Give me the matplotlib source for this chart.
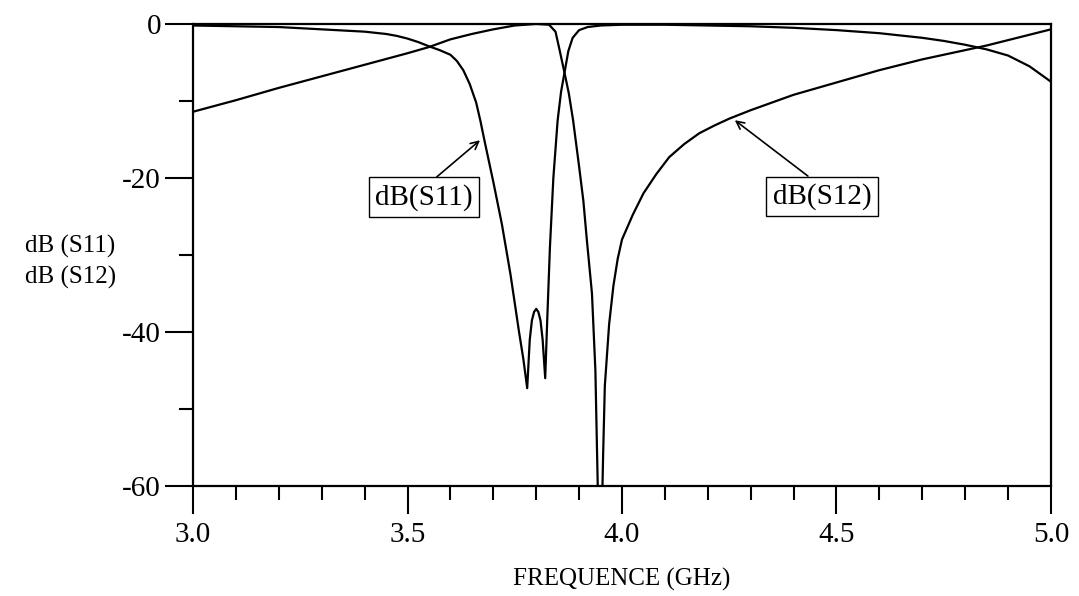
import matplotlib
matplotlib.use("Agg")

import matplotlib.pyplot as plt
from matplotlib.ticker import MultipleLocator

plt.rcParams['font.family'] = ['Liberation Serif', 'DejaVu Serif']

# values (frequency in GHz, level in dB)
S11_FREQ = [3.00, 3.10, 3.20, 3.30, 3.35, 3.40, 3.45, 3.475, 3.50, 3.525,
            3.55, 3.575, 3.60, 3.615, 3.63, 3.645, 3.66, 3.67, 3.68, 3.70,
            3.72, 3.74, 3.76, 3.770, 3.779, 3.785, 3.790, 3.795, 3.800, 3.805,
            3.810, 3.815, 3.821, 3.826, 3.832, 3.840, 3.850, 3.858, 3.867,
            3.875, 3.885, 3.900, 3.920, 3.950, 4.00, 4.10, 4.20, 4.30, 4.40,
            4.50, 4.60, 4.70, 4.75, 4.80, 4.85, 4.90, 4.95, 5.00]
S11_DB = [-0.2, -0.3, -0.4, -0.7, -0.85, -1.0, -1.3, -1.55, -1.9, -2.35,
          -2.9, -3.4, -4.0, -4.8, -6.0, -7.8, -10.2, -12.6, -15.3, -20.5,
          -26.0, -32.5, -40.0, -43.5, -47.3, -41.0, -38.5, -37.4, -37.0, -37.4,
          -38.5, -41.0, -46.0, -38.0, -29.0, -20.0, -12.5, -8.8, -6.0,
          -3.5, -1.8, -0.8, -0.4, -0.2, -0.1, -0.1, -0.2, -0.3, -0.5,
          -0.8, -1.2, -1.8, -2.2, -2.7, -3.3, -4.1, -5.5, -7.5]

S12_FREQ = [3.00, 3.10, 3.20, 3.30, 3.40, 3.50, 3.55, 3.60, 3.65, 3.70, 3.75,
            3.80, 3.83, 3.845, 3.855, 3.867, 3.876, 3.886, 3.900, 3.910, 3.918,
            3.930, 3.938, 3.942, 3.949, 3.956, 3.960, 3.970, 3.980, 3.990,
            4.00, 4.025, 4.05, 4.08, 4.11, 4.145, 4.18, 4.215, 4.25, 4.30,
            4.35, 4.40, 4.45, 4.50, 4.55, 4.60, 4.65, 4.70, 4.75, 4.80, 4.85,
            4.90, 4.95, 5.00]
S12_DB = [-11.4, -9.9, -8.3, -6.8, -5.3, -3.8, -3.0, -2.0, -1.3, -0.7, -0.2,
          0.0, -0.1, -1.0, -3.5, -6.6, -9.0, -12.5, -18.5, -23.0, -28.0,
          -35.0, -45.0, -56.0, -75.0, -56.0, -47.0, -39.0, -34.0, -30.5,
          -28.0, -24.8, -22.0, -19.5, -17.3, -15.6, -14.2, -13.2, -12.3, -11.2,
          -10.2, -9.2, -8.4, -7.6, -6.8, -6.0, -5.3, -4.6, -4.0, -3.4, -2.8,
          -2.1, -1.4, -0.7]

XTICKS = [3.0, 3.5, 4.0, 4.5, 5.0]
XTICK_LABELS = ['3.0', '3.5', '4.0', '4.5', '5.0']
YTICKS = [0, -20, -40, -60]
YTICK_LABELS = ['0', '-20', '-40', '-60']

fig = plt.figure(figsize=(10.79, 5.96), dpi=100)
ax = fig.add_axes([0.1789, 0.1846, 0.7951, 0.7752])

ax.plot(S11_FREQ, S11_DB, color='black', lw=1.6)
ax.plot(S12_FREQ, S12_DB, color='black', lw=1.6)

ax.set_xlim(3.0, 5.0)
ax.set_ylim(-60, 0)

ax.set_xticks(XTICKS)
ax.set_xticklabels(XTICK_LABELS)
ax.set_yticks(YTICKS)
ax.set_yticklabels(YTICK_LABELS)
ax.xaxis.set_minor_locator(MultipleLocator(0.1))
ax.yaxis.set_minor_locator(MultipleLocator(10))

ax.tick_params(which='major', direction='out', length=20, width=1.5,
               labelsize=21, color='black')
ax.tick_params(which='minor', direction='out', length=10, width=1.5)
ax.tick_params(axis='x', which='major', pad=6)
ax.tick_params(axis='y', which='major', pad=3)

for sp in ax.spines.values():
    sp.set_linewidth(1.6)

ax.set_xlabel('FREQUENCE (GHz)', fontsize=18, labelpad=14)
fig.text(0.023, 0.56, 'dB (S11)\ndB (S12)', fontsize=18, ha='left',
         va='center', linespacing=1.45)

box = dict(boxstyle='square,pad=0.22', fc='white', ec='black', lw=1.0)
ax.annotate('dB(S11)', xy=(3.669, -15.1), xytext=(3.538, -22.5),
            fontsize=21, ha='center', va='center', bbox=box,
            arrowprops=dict(arrowstyle='->', color='black', lw=1.2,
                            shrinkA=0, shrinkB=0, mutation_scale=14,
                            relpos=(0.55, 1.0)))
ax.annotate('dB(S12)', xy=(4.263, -12.5), xytext=(4.466, -22.4),
            fontsize=21, ha='center', va='center', bbox=box,
            arrowprops=dict(arrowstyle='->', color='black', lw=1.2,
                            shrinkA=0, shrinkB=0, mutation_scale=14,
                            relpos=(0.45, 1.0)))

fig.savefig('out.png', dpi=100)
